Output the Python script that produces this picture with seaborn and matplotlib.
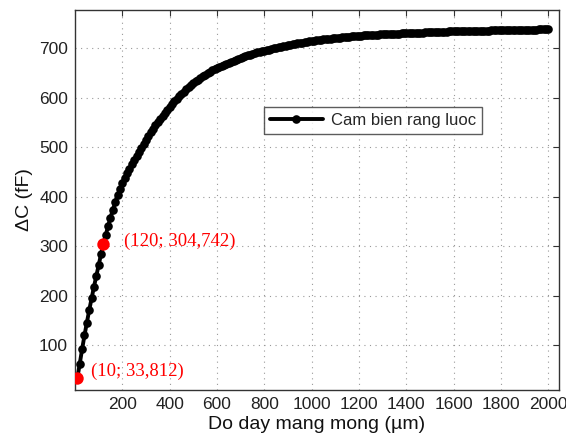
import numpy as np
import pandas as pd
import matplotlib
matplotlib.use("Agg")
import matplotlib.pyplot as plt
import seaborn as sns

# Film thickness (um), measured every 10 um
thickness = np.arange(10, 2001, 10)

# Capacitance change (fF) of the comb-electrode sensor
delta_c = [
    33.8, 63, 92, 120, 146, 171, 195, 218, 240, 262,
    284, 304.742, 323, 341, 358, 374, 389, 403, 416, 428,
    438, 448, 457, 466, 475, 483, 491, 499, 507, 514,
    522, 530, 537, 544, 551, 558, 564, 570, 576, 582,
    588, 593, 598, 603, 608, 612, 617, 621, 625, 629,
    633, 636, 640, 643, 646, 649, 652, 655, 657, 660,
    662.5, 665, 667, 669, 671, 673, 675, 677, 679, 681,
    682.5, 684, 685.5, 687, 688.5, 690, 691.5, 692.5, 694, 695,
    696, 697.2, 698.4, 699.6, 700.8, 701.8, 702.8, 703.8, 704.8, 705.8,
    706.8, 707.7, 708.6, 709.5, 710.4, 711.2, 712, 712.8, 713.6, 714.4,
    715.1, 715.8, 716.5, 717.1, 717.7, 718.3, 718.9, 719.5, 720, 720.5,
    721, 721.5, 722, 722.5, 723, 723.4, 723.8, 724.2, 724.6, 725,
    725.4, 725.8, 726.1, 726.4, 726.7, 727, 727.3, 727.6, 727.9, 728.2,
    728.4, 728.6, 728.8, 729, 729.2, 729.4, 729.6, 729.8, 730, 730.2,
    730.4, 730.6, 730.8, 731, 731.2, 731.4, 731.6, 731.8, 732, 732.2,
    732.4, 732.6, 732.8, 733, 733.2, 733.4, 733.6, 733.8, 734, 734.2,
    734.3, 734.4, 734.5, 734.6, 734.7, 734.8, 734.9, 735, 735.1, 735.2,
    735.3, 735.4, 735.5, 735.6, 735.7, 735.8, 735.9, 736, 736.1, 736.2,
    736.3, 736.4, 736.5, 736.6, 736.7, 736.8, 736.9, 737, 737.1, 737.2,
    737.3, 737.4, 737.5, 737.6, 737.7, 737.8, 737.9, 738, 738.1, 738.2,
]

# Highlighted measurement points
mark_x = [10, 120]
mark_y = [33.812, 304.742]
mark_labels = ["(10; 33,812)", "(120; 304,742)"]

x_ticks = [200, 400, 600, 800, 1000, 1200, 1400, 1600, 1800, 2000]
y_ticks = [100, 200, 300, 400, 500, 600, 700]

df = pd.DataFrame({"thickness": thickness, "delta_c": delta_c})
marks = pd.DataFrame({"x": mark_x, "y": mark_y})

sns.set_theme(style="white")
plt.rcParams["font.family"] = ["Liberation Sans", "DejaVu Sans"]

fig = plt.figure(figsize=(5.66, 4.37), dpi=100)
ax = fig.add_axes([0.1325, 0.1076, 0.855, 0.8694])

sns.lineplot(data=df, x="thickness", y="delta_c", ax=ax, color="black",
             linewidth=2.8, marker="o", markersize=6.2, markeredgewidth=0,
             label="Cam bien rang luoc", zorder=3)
sns.scatterplot(data=marks, x="x", y="y", ax=ax, color="red", s=80,
                edgecolor="red", linewidth=0, zorder=4, legend=False)

# label offsets (points) next to each highlighted marker
label_offsets = [(10, 5), (15, 2)]
for xv, yv, txt, off in zip(mark_x, mark_y, mark_labels, label_offsets):
    ax.annotate(txt, (xv, yv), xytext=off, textcoords="offset points",
                color="red", fontsize=13.5, va="center", ha="left",
                family=["Liberation Serif", "DejaVu Serif"])

ax.set_xlim(0, 2045)
ax.set_ylim(10, 777)
ax.set_xticks(x_ticks)
ax.set_yticks(y_ticks)
ax.tick_params(axis="both", which="major", direction="in", length=4,
               width=0.8, color="#333333", labelsize=12.5, pad=5,
               top=True, right=True, labelcolor="#222222")
ax.grid(True, linestyle=(0, (1, 4)), color="#999999", linewidth=0.8)
for s in ax.spines.values():
    s.set_color("#333333")
    s.set_linewidth(1.0)

ax.set_xlabel("Do day mang mong (\u00b5m)", fontsize=14, color="#111111", labelpad=3)
ax.set_ylabel("\u0394C (fF)", fontsize=14, color="#111111", labelpad=4)

leg = ax.legend(loc="upper left", bbox_to_anchor=(0.39, 0.745), fontsize=12,
                frameon=True, fancybox=False, edgecolor="#333333",
                handlelength=3.2, borderpad=0.35, handletextpad=0.5,
                borderaxespad=0)
leg.get_frame().set_linewidth(1.0)

fig.savefig("out.png", dpi=100, facecolor="white")
